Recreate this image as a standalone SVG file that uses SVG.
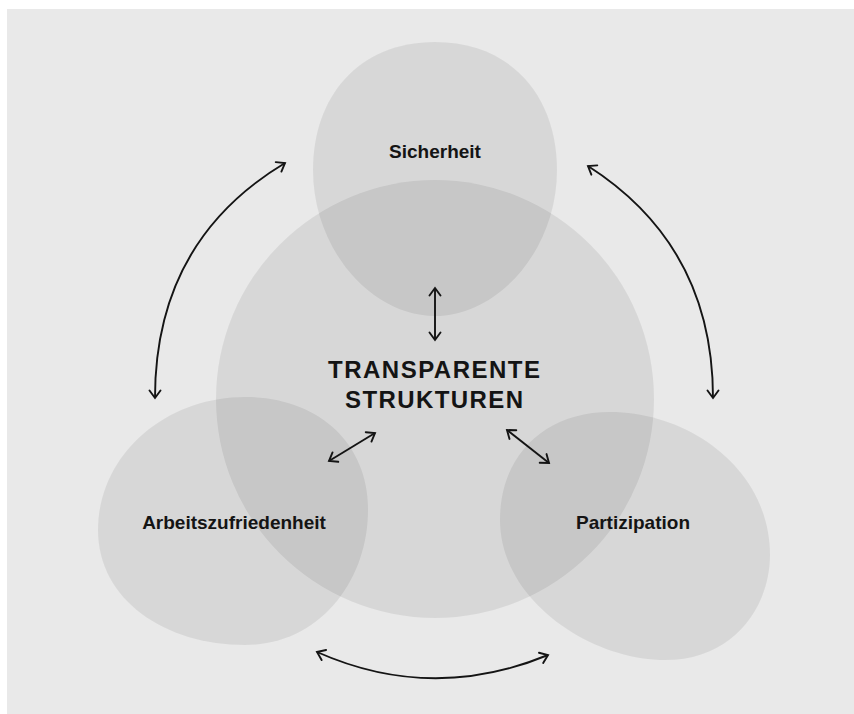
<svg xmlns="http://www.w3.org/2000/svg" width="854" height="714" viewBox="0 0 854 714">
  <style>
    .blob { fill: #000; fill-opacity: 0.075; }
    .label { font-family: "Liberation Sans", Arial, sans-serif; font-weight: bold; fill: #141414; text-anchor: middle; }
    .small { font-size: 19px; }
    .title { font-size: 24px; }
    .link { fill: none; stroke: #141414; stroke-width: 1.9; marker-start: url(#tip); marker-end: url(#tip); }
  </style>
  <defs>
    <marker id="tip" viewBox="-10 -7 12 14" refX="0" refY="0" markerWidth="12" markerHeight="14" markerUnits="userSpaceOnUse" orient="auto-start-reverse">
      <path d="M-7.5,-5.5 L0,0 L-7.5,5.5" fill="none" stroke="#141414" stroke-width="1.9" stroke-linecap="round" stroke-linejoin="miter"/>
    </marker>
  </defs>

  <!-- page -->
  <rect x="0" y="0" width="854" height="714" fill="#ffffff"/>
  <rect x="7" y="9" width="847" height="705" fill="#e9e9e9"/>

  <!-- central circle -->
  <g id="transparente-strukturen">
    <circle class="blob" cx="435" cy="399" r="219"/>
    <text class="label title" x="434" y="378" textLength="212" lengthAdjust="spacing">TRANSPARENTE</text>
    <text class="label title" x="434" y="408" textLength="178" lengthAdjust="spacing">STRUKTUREN</text>
  </g>

  <g id="sicherheit">
    <path class="blob" d="M435,42 C512,42 557,97 557,170 C557,250 498,316 435,316 C372,316 313,250 313,170 C313,97 358,42 435,42 Z"/>
    <text class="label small" x="435" y="158">Sicherheit</text>
  </g>

  <g id="arbeitszufriedenheit">
    <path class="blob" d="M245,397 C315,397 368,440 368,510 C368,580 320,645 245,645 C165,645 98,600 98,530 C98,455 165,397 245,397 Z"/>
    <text class="label small" x="234" y="529">Arbeitszufriedenheit</text>
  </g>

  <g id="partizipation">
    <path class="blob" d="M610,412 C690,412 770,470 770,555 C770,605 735,660 665,660 C590,660 500,600 500,520 C500,455 545,412 610,412 Z"/>
    <text class="label small" x="633" y="529">Partizipation</text>
  </g>

  <!-- connectors -->
  <g id="connectors">
    <path class="link" d="M155,398 Q155,241 285,163"/>
    <path class="link" d="M588,166 Q713,246 713,398"/>
    <path class="link" d="M317,652 Q432,703 548,655"/>
    <path class="link" d="M435,288 L435,340"/>
    <path class="link" d="M329,461 L375,433"/>
    <path class="link" d="M507,430 L549,463"/>
  </g>
</svg>
